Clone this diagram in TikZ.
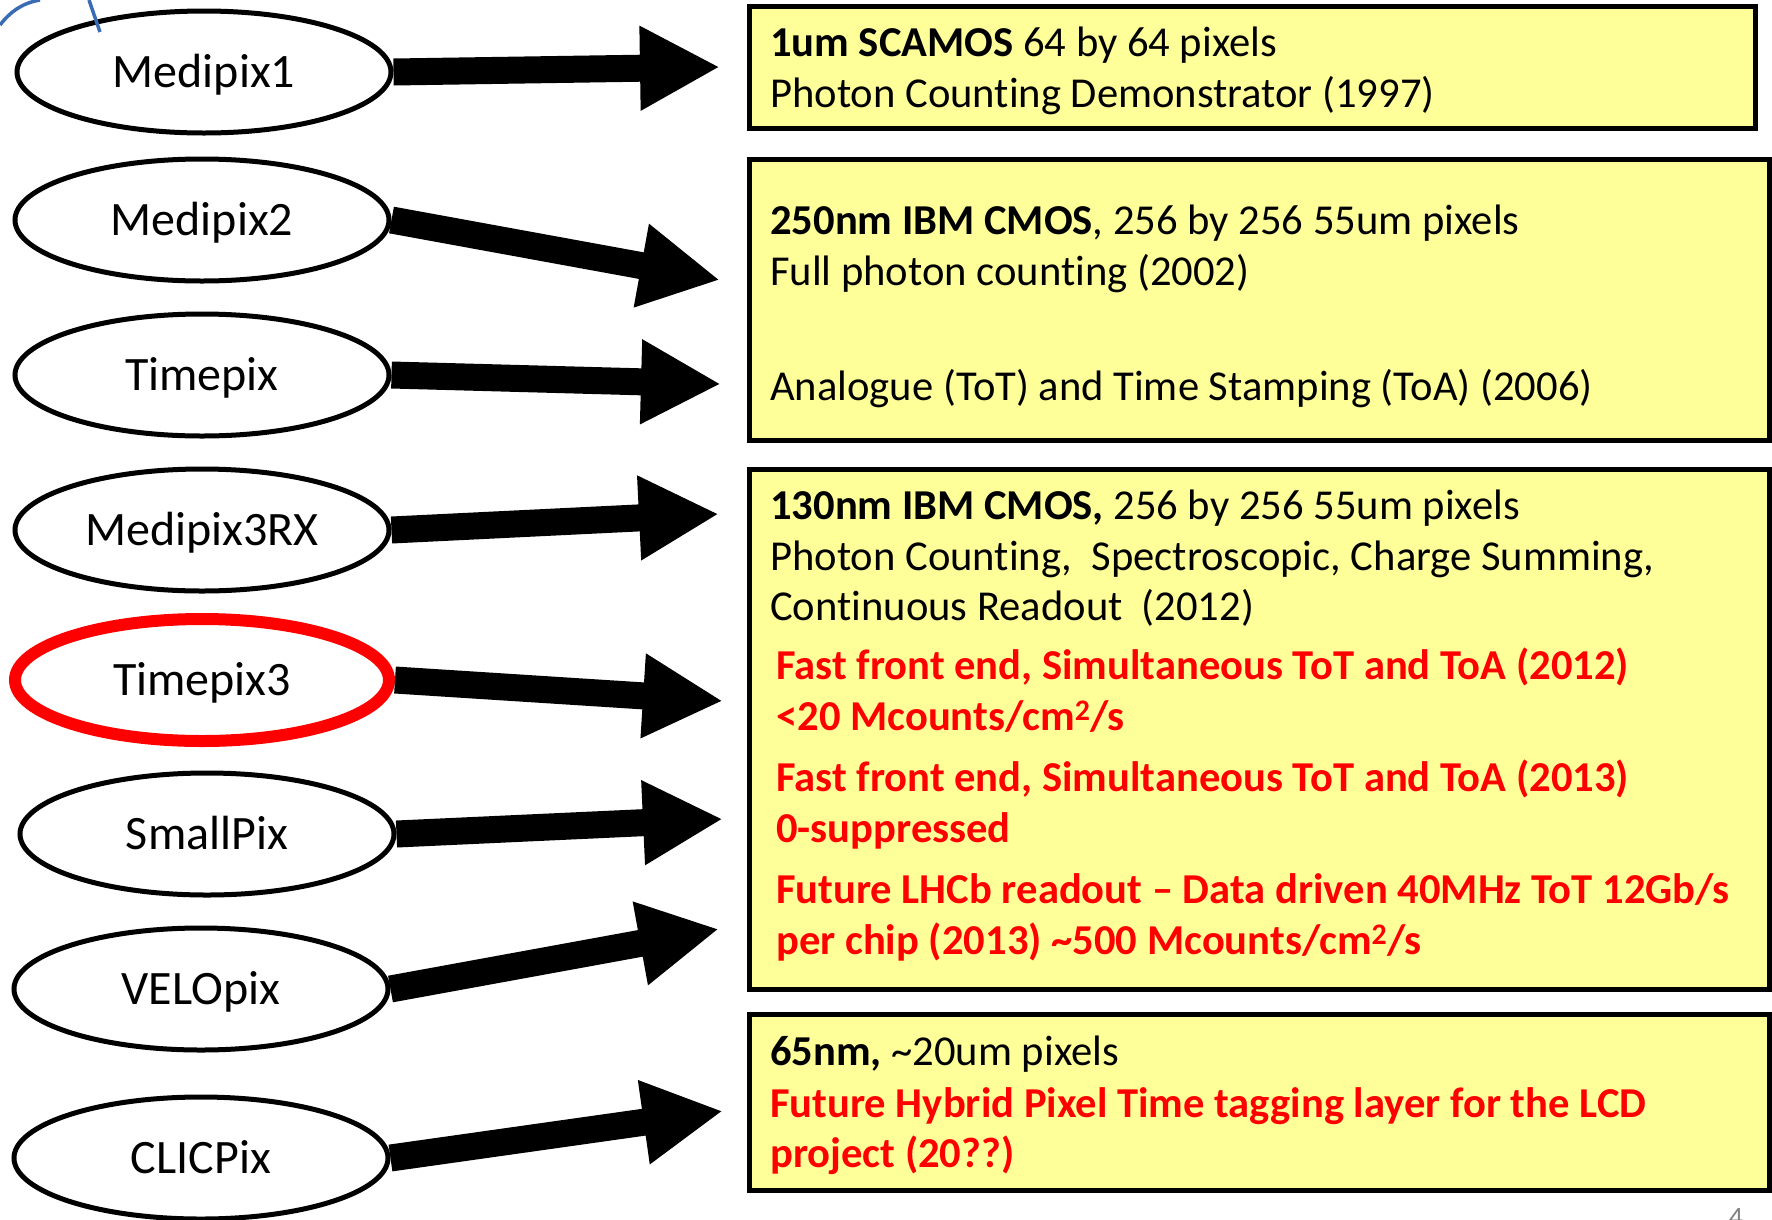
\documentclass[tikz,border=0pt]{standalone}
\usepackage{fontspec}
\setmainfont{Carlito}[Ligatures=NoCommon]
\usetikzlibrary{shapes.geometric,arrows.meta}
\definecolor{boxyellow}{HTML}{FFFF99}
\definecolor{chipred}{HTML}{FF0000}
\definecolor{logoblue}{HTML}{3A6CB4}

\begin{document}
\begin{tikzpicture}[x=1pt,y=-1pt,
  chip/.style={draw,ellipse,line width=5pt,minimum width=374pt,minimum height=122pt,
    inner sep=0pt,font=\fontsize{48}{56}\selectfont,text height=30pt,text depth=0pt},
  infobox/.style={draw,fill=boxyellow,line width=5pt,inner sep=0pt},
  txt/.style={anchor=base west,inner sep=0pt,font=\fontsize{42.6}{51}\selectfont},
  redtxt/.style={txt,text=chipred,font=\fontsize{42.6}{51}\selectfont\bfseries},
  bigarrow/.style={line width=27pt,-{Triangle[length=80pt,width=79pt]}}]
\useasboundingbox (0,0) rectangle (1772,1219);
\clip (0,0) rectangle (1772,1219);

% chips
\node[chip] (M1) at (204,72) {Medipix1};
\node[chip] (M2) at (202,220) {Medipix2};
\node[chip] (TP) at (202,375) {Timepix};
\node[chip] (M3) at (202,530) {Medipix3RX};
\node[chip,draw=chipred,line width=12pt] (T3) at (202,680) {Timepix3};
\node[chip] (SP) at (207,834) {SmallPix};
\node[chip] (VP) at (201,989) {VELOpix};
\node[chip] (CP) at (201,1158) {CLICPix};

% boxes
\node[infobox,minimum width=1006pt,minimum height=122pt] (B1) at (1252,67) {};
\node[infobox,minimum width=1020pt,minimum height=281pt] (B2) at (1259,300) {};
\node[infobox,minimum width=1020pt,minimum height=520pt] (B3) at (1259,729) {};
\node[infobox,minimum width=1020pt,minimum height=176pt] (B4) at (1259,1102) {};

% box texts
\node[txt] (l1) at (770,56) {\textbf{1um SCAMOS} 64 by 64 pixels};
\node[txt] (l2) at (770,107) {Photon Counting Demonstrator (1997)};
\node[txt] (l3) at (770,234) {\textbf{250nm IBM CMOS}, 256 by 256 55um pixels};
\node[txt] (l4) at (770,285) {Full photon counting (2002)};
\node[txt] (l5) at (770,400) {Analogue (ToT) and Time Stamping (ToA) (2006)};
\node[txt] (l6) at (770,519) {\textbf{130nm IBM CMOS,} 256 by 256 55um pixels};
\node[txt] (l7) at (770,570) {Photon Counting,\ \ Spectroscopic, Charge Summing,};
\node[txt] (l8) at (770,620) {Continuous Readout\ \ (2012)};
\node[redtxt] (l9) at (776,679) {Fast front end, Simultaneous ToT and ToA (2012)};
\node[redtxt] (l10) at (776,730) {<20 Mcounts/cm\textsuperscript{2}/s};
\node[redtxt] (l11) at (776,791) {Fast front end, Simultaneous ToT and ToA (2013)};
\node[redtxt] (l12) at (776,842) {0-suppressed};
\node[redtxt] (l13) at (776,903) {Future LHCb readout -- Data driven 40MHz ToT 12Gb/s};
\node[redtxt] (l14) at (776,954) {per chip (2013) \textasciitilde500 Mcounts/cm\textsuperscript{2}/s};
\node[txt] (l15) at (770,1065) {\textbf{65nm,} \textasciitilde20um pixels};
\node[redtxt] (l16) at (770,1117) {Future Hybrid Pixel Time tagging layer for the LCD};
\node[redtxt] (l17) at (770,1167) {project (20??)};

% arrows
\coordinate (a1) at (720,67);
\coordinate (a2) at (720,280);
\coordinate (a3) at (721,384);
\coordinate (a4) at (719,514);
\coordinate (a5) at (723,701);
\coordinate (a6) at (723,819);
\coordinate (a7) at (719,929);
\coordinate (a8) at (723,1111);
\foreach \i/\j in {M1/a1,M2/a2,TP/a3,M3/a4,T3/a5,SP/a6,VP/a7,CP/a8} {
  \draw[bigarrow] (\i.east) -- (\j);
}

% logo remains and page number
\draw[logoblue,line width=3.5pt] (0,25) .. controls (10,12) and (22,3) .. (40,0);
\draw[logoblue,line width=3.5pt] (89,0) -- (100,32);
\node[text=gray,anchor=base,inner sep=0pt,font=\fontsize{28}{34}\selectfont] (pg) at (1736,1226) {4};
\end{tikzpicture}
\end{document}
